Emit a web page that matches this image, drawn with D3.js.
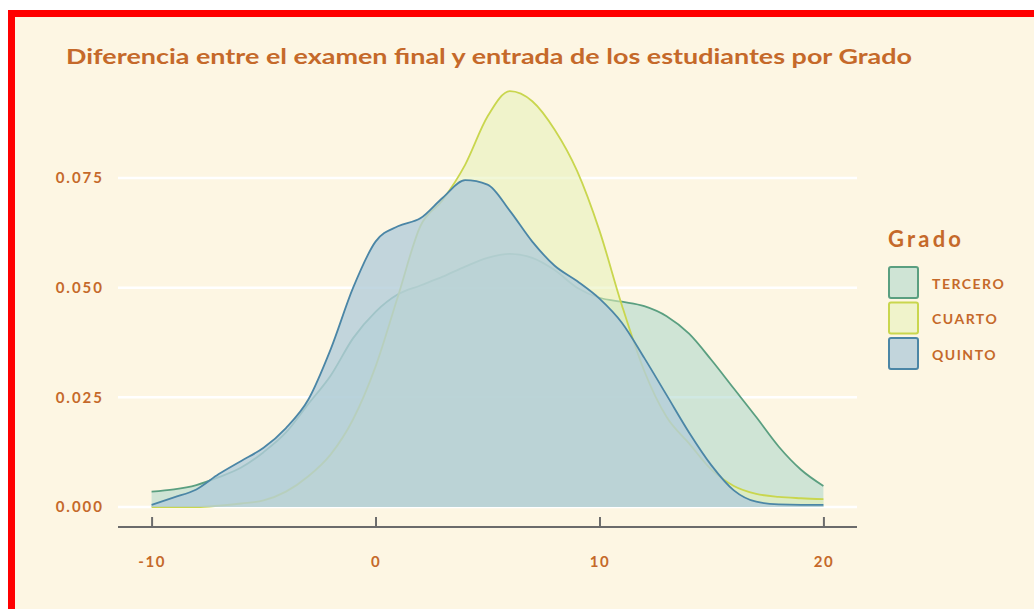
<!DOCTYPE html>
<html>
<head>
<meta charset="utf-8">
<script src="https://d3js.org/d3.v7.min.js"></script>
<style>
  body { margin: 0; background: #ffffff; }
  #chart { width: 1034px; height: 609px; }
</style>
</head>
<body>
<div id="chart"></div>
<script>
'use strict';

// difference values (x grid) and density estimates per grade
var diffValues = [-10, -9, -8, -7, -6, -5, -4, -3, -2, -1, 0, 1, 2, 3, 4, 5, 6, 7, 8, 9, 10, 11, 12, 13, 14, 15, 16, 17, 18, 19, 20]

var terceroDensity = [0.0035, 0.004, 0.005, 0.0068, 0.009, 0.0125, 0.017, 0.0235, 0.030, 0.0385, 0.0445, 0.0485, 0.0505, 0.0525, 0.0548, 0.0568, 0.0577, 0.0568, 0.054, 0.050, 0.0477, 0.0468, 0.0458, 0.0435, 0.0395, 0.0335, 0.027, 0.0205, 0.0138, 0.0085, 0.0048]
var cuartoDensity = [0.0, 0.0, 0.0, 0.0003, 0.0008, 0.0015, 0.0035, 0.007, 0.012, 0.020, 0.032, 0.048, 0.064, 0.070, 0.078, 0.089, 0.0948, 0.0925, 0.086, 0.0766, 0.063, 0.046, 0.031, 0.0205, 0.0145, 0.0085, 0.0048, 0.003, 0.0023, 0.002, 0.0018]
var quintoDensity = [0.0005, 0.0022, 0.004, 0.0075, 0.0105, 0.0135, 0.018, 0.0245, 0.036, 0.050, 0.0605, 0.064, 0.0658, 0.0705, 0.0745, 0.0735, 0.0675, 0.0605, 0.055, 0.0515, 0.0475, 0.042, 0.034, 0.0255, 0.017, 0.0095, 0.0038, 0.0012, 0.0006, 0.0005, 0.0005]

var grades = ['TERCERO', 'CUARTO', 'QUINTO']
var lineColors = ['#5a9f80', '#c9d64e', '#4b86a6']
var fillColors = ['#a1d2c7', '#e6f0b8', '#b3cdd9']
var fillOpacity = [0.5, 0.55, 0.8]
var yTicks = [0, 0.025, 0.05, 0.075]
var xTicks = [-10, 0, 10, 20]

var title = 'Diferencia entre el examen final y entrada de los estudiantes por Grado'
var legendTitle = 'Grado'

var series = [terceroDensity, cuartoDensity, quintoDensity].map(function(values, i){
  return {
    name: grades[i],
    color: lineColors[i],
    fill: fillColors[i],
    opacity: fillOpacity[i],
    points: diffValues.map(function(x, j){ return {x: x, y: values[j]} })
  }
})

var textColor = '#c5692a'
var font = 'Lato, "Open Sans", sans-serif'
var width = 1034, height = 609

var svg = d3.select('#chart').append('svg')
    .attr('width', width)
    .attr('height', height)

// panel background with red frame
svg.append('rect')
    .attr('x', 11.5)
    .attr('y', 13.5)
    .attr('width', 1100)
    .attr('height', 700)
    .attr('fill', '#fdf6e3')
    .attr('stroke', '#ff0000')
    .attr('stroke-width', 7)

var x = d3.scaleLinear()
    .domain([-11.5, 21.5])
    .range([118, 857])

var y = d3.scaleLinear()
    .domain([0, 0.075])
    .range([507, 178])

// grid
svg.append('g').selectAll('line')
    .data(yTicks)
  .enter().append('line')
    .attr('x1', x.range()[0])
    .attr('x2', x.range()[1])
    .attr('y1', function(d){ return y(d) })
    .attr('y2', function(d){ return y(d) })
    .attr('stroke', '#ffffff')
    .attr('stroke-width', 2.5)

var area = d3.area()
    .x(function(d){ return x(d.x) })
    .y0(y(0))
    .y1(function(d){ return y(d.y) })
    .curve(d3.curveMonotoneX)

var line = d3.line()
    .x(function(d){ return x(d.x) })
    .y(function(d){ return y(d.y) })
    .curve(d3.curveMonotoneX)

var curves = svg.append('g').selectAll('g')
    .data(series)
  .enter().append('g')

curves.append('path')
    .attr('d', function(d){ return area(d.points) })
    .attr('fill', function(d){ return d.fill })
    .attr('fill-opacity', function(d){ return d.opacity })

curves.append('path')
    .attr('d', function(d){ return line(d.points) })
    .attr('fill', 'none')
    .attr('stroke', function(d){ return d.color })
    .attr('stroke-width', 1.8)

// x axis
var xAxis = d3.axisTop(x)
    .tickValues(xTicks)
    .tickSize(10)
    .tickFormat(function(d){ return String(d) })

var gx = svg.append('g')
    .attr('transform', 'translate(0,527)')
    .call(xAxis)

gx.select('.domain')
    .attr('d', 'M' + x.range()[0] + ',0H' + x.range()[1])
    .attr('stroke', '#6b6b6b')
    .attr('stroke-width', 2.2)
gx.selectAll('.tick line')
    .attr('stroke', '#6b6b6b')
    .attr('stroke-width', 2)
gx.selectAll('.tick text')
    .attr('y', 35)
    .attr('dy', '0.35em')
    .attr('fill', textColor)
    .attr('font-family', font)
    .attr('font-size', '15px')
    .attr('font-weight', 'bold')
    .attr('letter-spacing', 1.5)

// y labels
svg.append('g').selectAll('text')
    .data(yTicks)
  .enter().append('text')
    .attr('x', 104)
    .attr('y', function(d){ return y(d) })
    .attr('dy', '0.35em')
    .attr('text-anchor', 'end')
    .attr('fill', textColor)
    .attr('font-family', font)
    .attr('font-size', '15px')
    .attr('font-weight', 'bold')
    .attr('letter-spacing', 2)
    .text(function(d){ return d3.format('.3f')(d) })

// title
svg.append('text')
    .attr('x', 66)
    .attr('y', 64)
    .attr('fill', textColor)
    .attr('font-family', font)
    .attr('font-size', '21px')
    .attr('font-weight', 'bold')
    .attr('textLength', 846)
    .attr('lengthAdjust', 'spacingAndGlyphs')
    .text(title)

// legend
var legend = svg.append('g')
    .attr('transform', 'translate(888,0)')

legend.append('text')
    .attr('x', 0)
    .attr('y', 247)
    .attr('fill', textColor)
    .attr('font-family', font)
    .attr('font-size', '22px')
    .attr('font-weight', 'bold')
    .attr('textLength', 73)
    .text(legendTitle)

var keys = legend.selectAll('.key')
    .data(series)
  .enter().append('g')
    .attr('class', 'key')
    .attr('transform', function(d, i){ return 'translate(0,' + (266 + i * 35.5) + ')' })

keys.append('rect')
    .attr('x', 1)
    .attr('y', 1)
    .attr('width', 29)
    .attr('height', 31)
    .attr('rx', 2)
    .attr('fill', function(d){ return d.fill })
    .attr('fill-opacity', function(d){ return d.opacity })
    .attr('stroke', function(d){ return d.color })
    .attr('stroke-width', 2)

keys.append('text')
    .attr('x', 44)
    .attr('y', 18)
    .attr('dy', '0.35em')
    .attr('fill', textColor)
    .attr('font-family', font)
    .attr('font-size', '14px')
    .attr('font-weight', 'bold')
    .attr('letter-spacing', 1.5)
    .text(function(d){ return d.name })
</script>
</body>
</html>
